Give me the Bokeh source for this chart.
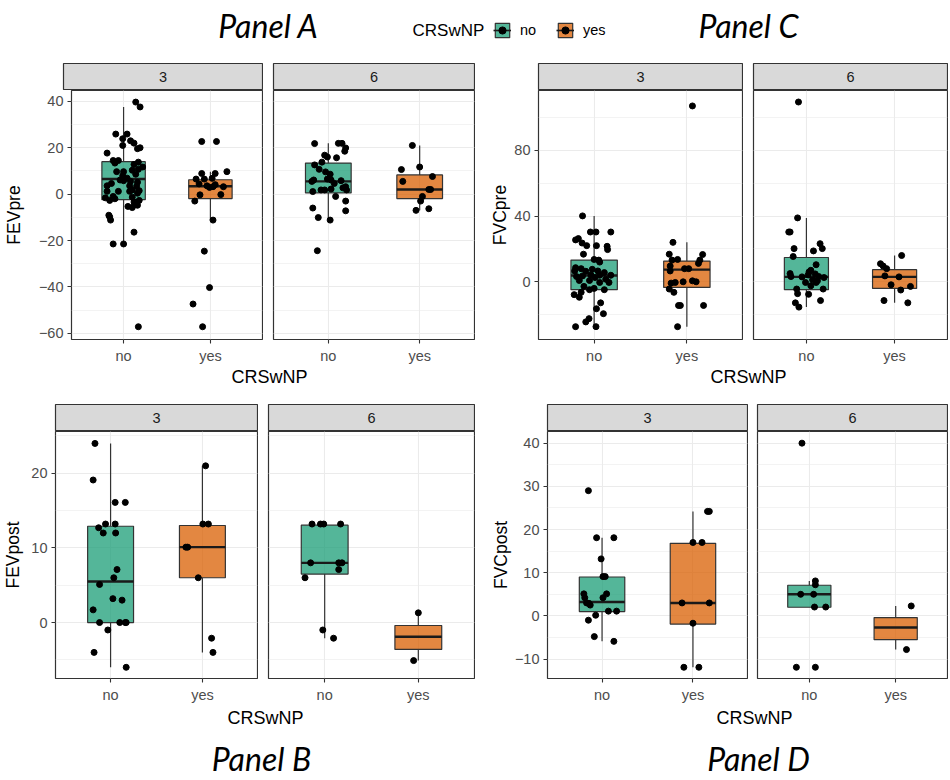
from bokeh.plotting import figure
from bokeh.models import Range1d, FixedTicker, Label, Legend, LegendItem
from bokeh.layouts import column, row
from bokeh.embed import file_html
from bokeh.resources import INLINE

GROUPS = ["no", "yes"]
FACETS = ["3", "6"]
GROUP_COLORS = ["#1B9E77", "#D95F02"]
X_TITLE = "CRSwNP"
PANEL_TITLES = ["Panel A", "Panel B", "Panel C", "Panel D"]

# ---------------- Panel A : FEVpre ----------------
FEVPRE_TICKS = [-60, -40, -20, 0, 20, 40]
FEVPRE_MINOR = [-50, -30, -10, 10, 30]
FEVPRE_YRANGE = [-62.7, 44.7]
# box statistics, order [3-no, 3-yes, 6-no, 6-yes]
FEVPRE_LOWER = [-21.5, -11.2, -11.2, -7.0]
FEVPRE_Q1 = [-2.4, -1.9, 0.5, -1.9]
FEVPRE_MED = [6.5, 3.4, 5.5, 2.0]
FEVPRE_Q3 = [14.0, 6.2, 13.4, 8.3]
FEVPRE_UPPER = [37.6, 9.7, 21.9, 21.0]
FEVPRE_3_NO = [39.7, 37.6, 25.9, 25.9, 23.9, 23.0, 21.0, 22.0, 19.6, 20.0, 17.7, 14.5, 14.5, 13.4,
               12.8, 13.8, 11.7, 9.7, 9.7, 10.3, 10.7, 8.6, 7.9, 6.9, 6.1, 5.8, 5.5, 4.6, 5.1, 3.6,
               3.6, 3.4, 1.8, 1.5, 1.2, 1.2, 1.2, 0.4, -1.0, -1.6, -2.0, -2.7, -1.3, -2.7, -4.4,
               -5.3, -5.8, -4.8, -3.4, -9.1, -11.2, -9.8, -16.4, -21.5, -21.5, -57.2]
FEVPRE_3_NO_JIT = [0.14, 0.19, -0.09, 0.04, -0.01, 0.08, -0.01, 0.12, 0.16, 0.19, -0.19, -0.12, -0.06,
                   -0.10, 0.12, 0.17, 0.22, -0.08, 0.0, 0.10, 0.17, 0.14, -0.01, 0.04, -0.04, 0.0,
                   0.08, -0.14, 0.16, -0.19, 0.07, 0.15, 0.10, 0.18, -0.19, -0.06, 0.07, 0.16, -0.12,
                   -0.21, -0.10, -0.16, 0.10, 0.18, 0.13, 0.05, 0.10, 0.16, 0.12, -0.17, -0.15, -0.16,
                   0.12, -0.12, 0.0, 0.17]
FEVPRE_3_YES = [22.7, 22.7, 9.7, 8.9, 8.9, 6.5, 6.5, 6.8, 4.4, 3.6, 2.9, 3.2, 4.1, 3.2, -0.3, -3.0,
                -0.2, -11.2, -24.6, -40.3, -47.4, -57.2]
FEVPRE_3_YES_JIT = [-0.10, 0.07, 0.19, -0.10, 0.055, -0.165, -0.07, 0.02, -0.13, -0.04, -0.01, 0.03,
                    0.055, 0.15, -0.12, -0.18, 0.12, 0.03, -0.07, -0.01, -0.20, -0.09]
FEVPRE_6_NO = [21.8, 21.9, 21.9, 19.9, 18.5, 16.8, 16.0, 15.7, 13.8, 12.6, 10.7, 9.6, 8.6, 6.1, 5.5,
               6.5, 6.1, 4.6, 5.8, 3.2, 1.8, 1.8, 1.8, 1.1, 2.2, 2.7, -1.0, -3.0, -6.0, -7.2, -10.1,
               -11.2, -24.4]
FEVPRE_6_NO_JIT = [-0.15, 0.11, 0.15, 0.19, 0.18, -0.04, -0.01, 0.09, -0.07, -0.15, -0.10, -0.03, 0.02,
                   -0.16, -0.18, -0.01, 0.03, 0.065, 0.14, 0.19, 0.20, -0.08, -0.04, -0.17, 0.03, 0.16,
                   0.08, 0.19, -0.17, 0.19, -0.11, 0.02, -0.12]
FEVPRE_6_YES = [21.0, 10.6, 11.7, 7.6, 5.5, 2.0, 2.0, -1.0, -3.0, -7.0, -6.3]
FEVPRE_6_YES_JIT = [-0.08, -0.20, 0.0, 0.14, -0.185, 0.12, 0.10, 0.03, 0.01, -0.04, 0.10]

# ---------------- Panel C : FVCpre ----------------
FVCPRE_TICKS = [0, 40, 80]
FVCPRE_MINOR = [-20, 20, 60, 100]
FVCPRE_YRANGE = [-35.1, 116.4]
FVCPRE_LOWER = [-27.3, -27.3, -15.4, -12.8]
FVCPRE_Q1 = [-4.8, -3.4, -4.8, -4.0]
FVCPRE_MED = [3.8, 7.4, 3.0, 3.0]
FVCPRE_Q3 = [13.2, 12.6, 14.8, 7.4]
FVCPRE_UPPER = [40.1, 24.0, 38.9, 16.0]
FVCPRE_3_NO = [40.1, 25.5, 26.3, 30.3, 30.3, 30.3, 23.6, 22.0, 22.0, 21.6, 19.6, 16.8, 13.6, 13.2,
               12.0, 8.6, 6.6, 8.0, 6.4, 7.6, 6.6, 5.6, 3.2, 3.6, 4.2, 2.6, 4.0, 4.0, 0.8, 0.8, -0.4,
               1.6, -0.4, -2.8, -4.8, -4.0, -4.8, -6.4, -7.8, -9.4, -12.8, -16.4, -19.4, -22.4,
               -24.4, -27.3, -27.3]
FVCPRE_3_NO_JIT = [-0.125, -0.20, -0.17, -0.04, 0.02, 0.18, -0.13, -0.08, 0.025, 0.14, 0.145, -0.115,
                   0.0, 0.05, 0.06, -0.20, -0.21, -0.14, -0.09, -0.02, 0.04, 0.11, -0.19, -0.125,
                   -0.035, 0.01, 0.06, 0.18, -0.16, -0.05, 0.06, 0.125, 0.16, -0.11, -0.05, 0.0, 0.11,
                   -0.14, -0.215, -0.16, 0.07, 0.025, 0.10, -0.055, -0.09, -0.20, 0.02]
FVCPRE_3_YES = [107.0, 24.0, 16.8, 13.6, 16.6, 13.2, 13.2, 9.6, 6.6, 8.0, 8.0, 11.2, -0.4, -0.8, 0.0,
                0.6, 0.0, -6.4, -4.4, -14.4, -14.4, -14.4, -27.3]
FVCPRE_3_YES_JIT = [0.06, -0.15, -0.19, -0.10, 0.17, 0.14, -0.16, -0.18, -0.18, -0.025, 0.02, 0.125,
                    -0.125, -0.17, -0.04, 0.06, 0.10, -0.14, -0.19, -0.09, -0.07, 0.18, -0.10]
FVCPRE_6_NO = [109.4, 38.9, 30.3, 30.3, 20.2, 23.2, 20.2, 18.8, 15.4, 10.4, 7.0, 6.0, 5.0, 3.2, 3.0,
               4.2, 4.8, 3.2, 2.6, 1.2, -0.4, -0.4, 0.6, -2.4, -4.4, -4.4, -7.2, -7.6, -11.4, -12.8,
               -15.4]
FVCPRE_6_NO_JIT = [-0.09, -0.10, -0.20, -0.185, -0.14, 0.155, 0.18, 0.08, -0.15, 0.11, 0.05, 0.03,
                   -0.185, -0.175, -0.05, 0.02, 0.10, 0.14, 0.20, 0.07, -0.01, 0.11, 0.125, 0.05, 0.19,
                   -0.11, -0.10, 0.025, 0.16, -0.125, -0.085]
FVCPRE_6_YES = [16.0, 11.0, 9.6, 8.0, 3.6, 3.0, -1.8, -2.8, -5.0, -11.4, -12.8]
FVCPRE_6_YES_JIT = [0.08, -0.16, -0.13, -0.09, -0.11, 0.05, -0.04, 0.18, 0.07, -0.12, 0.15]

# ---------------- Panel B : FEVpost ----------------
FEVPOST_TICKS = [0, 10, 20]
FEVPOST_MINOR = [-5, 5, 15, 25]
FEVPOST_YRANGE = [-7.5, 25.6]
FEVPOST_LOWER = [-6.0, -4.0, -2.1, -5.1]
FEVPOST_Q1 = [0.0, 6.0, 6.5, -3.6]
FEVPOST_MED = [5.5, 10.1, 8.0, -1.9]
FEVPOST_Q3 = [12.9, 13.0, 13.05, -0.4]
FEVPOST_UPPER = [24.0, 21.0, 13.2, 1.3]
FEVPOST_3_NO = [24.0, 19.1, 16.1, 16.1, 13.2, 13.2, 12.7, 12.0, 12.0, 7.1, 6.0, 5.1, 3.2, 3.0, 1.7,
                0.0, 0.0, 0.0, 0.0, -1.0, -4.0, -6.0]
FEVPOST_3_NO_JIT = [-0.17, -0.19, 0.05, 0.16, -0.055, 0.05, -0.13, -0.08, 0.055, 0.07, 0.035, -0.12,
                    0.025, 0.125, -0.19, -0.12, 0.10, 0.16, 0.17, -0.03, -0.18, 0.17]
FEVPOST_3_YES = [21.0, 13.2, 13.2, 10.1, 10.1, 6.0, -2.1, -4.0]
FEVPOST_3_YES_JIT = [0.035, 0.005, 0.065, -0.18, -0.16, -0.045, 0.10, 0.115]
FEVPOST_6_NO = [13.2, 13.2, 13.2, 13.2, 8.0, 8.0, 8.0, 7.1, 6.0, -1.0, -2.1]
FEVPOST_6_NO_JIT = [-0.135, -0.045, -0.01, 0.17, -0.15, 0.15, 0.185, 0.15, -0.21, -0.02, 0.095]
FEVPOST_6_YES = [1.3, -5.1]
FEVPOST_6_YES_JIT = [0.0, -0.05]

# ---------------- Panel D : FVCpost ----------------
FVCPOST_TICKS = [-10, 0, 10, 20, 30, 40]
FVCPOST_MINOR = [-5, 5, 15, 25, 35]
FVCPOST_YRANGE = [-14.5, 42.7]
FVCPOST_LOWER = [-5.9, -11.9, 2.0, -7.8]
FVCPOST_Q1 = [1.0, -1.9, 2.0, -5.5]
FVCPOST_MED = [3.2, 3.0, 5.0, -2.7]
FVCPOST_Q3 = [9.0, 16.8, 7.1, -0.4]
FVCPOST_UPPER = [18.1, 24.2, 8.1, 2.3]
FVCPOST_3_NO = [29.0, 18.1, 18.1, 13.2, 9.1, 9.1, 5.1, 5.1, 4.2, 4.2, 3.0, 2.9, 2.5, 1.1, 1.1, 0.15,
                -1.0, -4.8, -5.9]
FVCPOST_3_NO_JIT = [-0.15, -0.06, 0.13, -0.01, 0.01, 0.035, -0.20, 0.05, -0.19, 0.01, -0.17, -0.145,
                    -0.13, 0.07, 0.16, -0.07, -0.15, -0.085, 0.13]
FVCPOST_3_YES = [24.2, 24.2, 17.0, 17.0, 3.0, 3.0, -1.7, -11.9, -11.9]
FVCPOST_3_YES_JIT = [0.16, 0.18, 0.0, 0.10, -0.12, 0.18, 0.0, -0.10, 0.065]
FVCPOST_6_NO = [40.0, 8.1, 7.2, 5.0, 5.0, 2.05, 2.05, -11.9, -11.9]
FVCPOST_6_NO_JIT = [-0.085, 0.07, 0.07, -0.10, 0.05, 0.06, 0.19, -0.15, 0.07]
FVCPOST_6_YES = [2.3, -7.8]
FVCPOST_6_YES_JIT = [0.18, 0.125]

PANELS = {
    "A": dict(ylabel="FEVpre", yrange=FEVPRE_YRANGE, ticks=FEVPRE_TICKS, minor=FEVPRE_MINOR,
              stats=[FEVPRE_LOWER, FEVPRE_Q1, FEVPRE_MED, FEVPRE_Q3, FEVPRE_UPPER],
              pts=[FEVPRE_3_NO, FEVPRE_3_YES, FEVPRE_6_NO, FEVPRE_6_YES],
              jit=[FEVPRE_3_NO_JIT, FEVPRE_3_YES_JIT, FEVPRE_6_NO_JIT, FEVPRE_6_YES_JIT]),
    "C": dict(ylabel="FVCpre", yrange=FVCPRE_YRANGE, ticks=FVCPRE_TICKS, minor=FVCPRE_MINOR,
              stats=[FVCPRE_LOWER, FVCPRE_Q1, FVCPRE_MED, FVCPRE_Q3, FVCPRE_UPPER],
              pts=[FVCPRE_3_NO, FVCPRE_3_YES, FVCPRE_6_NO, FVCPRE_6_YES],
              jit=[FVCPRE_3_NO_JIT, FVCPRE_3_YES_JIT, FVCPRE_6_NO_JIT, FVCPRE_6_YES_JIT]),
    "B": dict(ylabel="FEVpost", yrange=FEVPOST_YRANGE, ticks=FEVPOST_TICKS, minor=FEVPOST_MINOR,
              stats=[FEVPOST_LOWER, FEVPOST_Q1, FEVPOST_MED, FEVPOST_Q3, FEVPOST_UPPER],
              pts=[FEVPOST_3_NO, FEVPOST_3_YES, FEVPOST_6_NO, FEVPOST_6_YES],
              jit=[FEVPOST_3_NO_JIT, FEVPOST_3_YES_JIT, FEVPOST_6_NO_JIT, FEVPOST_6_YES_JIT]),
    "D": dict(ylabel="FVCpost", yrange=FVCPOST_YRANGE, ticks=FVCPOST_TICKS, minor=FVCPOST_MINOR,
              stats=[FVCPOST_LOWER, FVCPOST_Q1, FVCPOST_MED, FVCPOST_Q3, FVCPOST_UPPER],
              pts=[FVCPOST_3_NO, FVCPOST_3_YES, FVCPOST_6_NO, FVCPOST_6_YES],
              jit=[FVCPOST_3_NO_JIT, FVCPOST_3_YES_JIT, FVCPOST_6_NO_JIT, FVCPOST_6_YES_JIT]),
}

# ---------------- styling ----------------
FONT = "Liberation Sans"
TITLE_FONT = "Lato"
EDGE = "#333333"
GRID = "#EBEBEB"
TICK_TXT = "#4D4D4D"
TICK_SIZE = "14.5px"
AXT_SIZE = "17.5px"
BOX_W = 0.5
TOTAL_W = 948


def base_fig(w, h, **kw):
    return figure(width=w, height=h, output_backend="svg", toolbar_location=None, title=None, **kw)


def strip_fig(label, frame_w, left, right, h=28):
    p = base_fig(left + frame_w + right, h, x_range=Range1d(0, 1), y_range=Range1d(0, 1),
                 x_axis_location=None, y_axis_location=None,
                 min_border_left=left, min_border_right=right, min_border_top=1, min_border_bottom=0)
    p.grid.visible = False
    p.background_fill_color = "#D9D9D9"
    p.border_fill_color = "white"
    p.outline_line_color = EDGE
    p.outline_line_width = 1.2
    p.add_layout(Label(x=0.5, y=0.5, text=label, text_align="center", text_baseline="middle",
                       text_font=FONT, text_font_size=TICK_SIZE, text_color="#1A1A1A"))
    return p


def facet_fig(key, fi, frame_w, left, right, frame_h, bottom, show_y, standoff):
    pn = PANELS[key]
    p = base_fig(left + frame_w + right, frame_h + bottom,
                 x_range=Range1d(0.4, 2.6), y_range=Range1d(*pn["yrange"]),
                 x_axis_location="below", y_axis_location="left" if show_y else None,
                 min_border_left=left, min_border_right=right, min_border_top=0,
                 min_border_bottom=bottom)
    p.background_fill_color = "white"
    p.border_fill_color = "white"
    p.outline_line_color = EDGE
    p.outline_line_width = 1.2

    xt = FixedTicker(ticks=[1, 2], minor_ticks=[])
    yt = FixedTicker(ticks=pn["ticks"], minor_ticks=pn["minor"])
    p.xaxis.ticker = xt
    p.xaxis.major_label_overrides = {i + 1: g for i, g in enumerate(GROUPS)}
    p.xgrid.ticker = xt
    p.ygrid.ticker = yt
    for g in p.xgrid + p.ygrid:
        g.grid_line_color = GRID
        g.grid_line_width = 1.1
    p.ygrid.minor_grid_line_color = GRID
    p.ygrid.minor_grid_line_width = 0.6
    p.xgrid.minor_grid_line_color = None

    axes = list(p.xaxis) + list(p.yaxis)
    for ax in axes:
        ax.axis_line_color = None
        ax.major_tick_line_color = EDGE
        ax.major_tick_line_width = 1.1
        ax.major_tick_in = 0
        ax.major_tick_out = 4
        ax.minor_tick_line_color = None
        ax.major_label_text_color = TICK_TXT
        ax.major_label_text_font = FONT
        ax.major_label_text_font_size = TICK_SIZE
        ax.major_label_standoff = 4
    if show_y:
        p.yaxis.ticker = yt
        p.yaxis.axis_label = pn["ylabel"]
        p.yaxis.axis_label_text_font = FONT
        p.yaxis.axis_label_text_font_size = AXT_SIZE
        p.yaxis.axis_label_text_font_style = "normal"
        p.yaxis.axis_label_text_color = "black"
        p.yaxis.axis_label_standoff = standoff

    lo, q1, med, q3, hi = pn["stats"]
    for gi, g in enumerate(GROUPS):
        k = fi * 2 + gi
        xc = gi + 1
        p.segment(x0=[xc, xc], y0=[q3[k], lo[k]], x1=[xc, xc], y1=[hi[k], q1[k]],
                  line_color=EDGE, line_width=1.2)
        p.vbar(x=[xc], width=BOX_W, bottom=[q1[k]], top=[q3[k]], fill_color=GROUP_COLORS[gi],
               fill_alpha=0.75, line_color=EDGE, line_width=1.2)
        p.segment(x0=[xc - BOX_W / 2], x1=[xc + BOX_W / 2], y0=[med[k]], y1=[med[k]],
                  line_color="#1A1A1A", line_width=2.4)
        ys = pn["pts"][k]
        xs = [xc + d for d in pn["jit"][k]]
        p.scatter(x=xs, y=ys, size=6, color="black")
    return p


def text_fig(h, labels):
    p = base_fig(TOTAL_W, h, x_range=Range1d(0, 1), y_range=Range1d(0, 1),
                 x_axis_location=None, y_axis_location=None, min_border=0)
    p.grid.visible = False
    p.outline_line_color = None
    for lab in labels:
        p.add_layout(lab)
    return p


def axis_title(x, y, text):
    return Label(x=x, y=y, x_units="screen", y_units="screen", text=text, text_align="center",
                 text_baseline="middle", text_font=FONT, text_font_size="18px", text_color="black")


def panel_title(x, y, text):
    return Label(x=x, y=y, x_units="screen", y_units="screen", text=text, text_align="center",
                 text_baseline="middle", text_font=TITLE_FONT, text_font_style="italic",
                 text_font_size="32px", text_color="black")


# ---------------- header with legend ----------------
HEADER_H = 62
header = text_fig(HEADER_H, [panel_title(268, 37, PANEL_TITLES[0]),
                             panel_title(748, 37, PANEL_TITLES[2]),
                             Label(x=412, y=32, x_units="screen", y_units="screen", text=X_TITLE,
                                   text_align="left", text_baseline="middle", text_font=FONT,
                                   text_font_size="17px", text_color="black")])
items = []
for gi, g in enumerate(GROUPS):
    rb = header.vbar(x=[-5], width=0.5, bottom=[-6], top=[-5], fill_color=GROUP_COLORS[gi],
                     fill_alpha=0.75, line_color=EDGE, line_width=1.2)
    rm = header.segment(x0=[-6], x1=[-5], y0=[-5], y1=[-5], line_color="#1A1A1A", line_width=1.6)
    rp = header.scatter(x=[-5], y=[-5], size=4, color="black")
    items.append(LegendItem(label=g, renderers=[rb, rm, rp]))
legend = Legend(items=items, orientation="horizontal", location=(493, 23), padding=0, margin=0,
                spacing=16, glyph_width=18, glyph_height=18, label_standoff=9,
                label_text_font=FONT, label_text_font_size=TICK_SIZE, label_text_color="black",
                border_line_color=None, background_fill_alpha=0)
header.add_layout(legend)

# ---------------- facet rows ----------------
# (panel, facet index, frame width, left border, right border, has y axis, y-title standoff)
TOP = [("A", 0, 199, 63, 1, True, 12), ("A", 1, 201, 10, 1, False, 0),
       ("C", 0, 204, 63, 1, True, 1), ("C", 1, 194, 10, 1, False, 0)]
BOT = [("B", 0, 202, 55, 1, True, 5), ("B", 1, 206, 10, 1, False, 0),
       ("D", 0, 200, 72, 1, True, 1), ("D", 1, 190, 9, 1, False, 0)]

top_strips = row([strip_fig(FACETS[fi], fw, l, r) for (k, fi, fw, l, r, s, so) in TOP], spacing=0)
top_facets = row([facet_fig(k, fi, fw, l, r, 253, 23, s, so) for (k, fi, fw, l, r, s, so) in TOP],
                 spacing=0)
top_xt = text_fig(37, [axis_title(269, 27, X_TITLE), axis_title(748, 27, X_TITLE)])

bot_strips = row([strip_fig(FACETS[fi], fw, l, r) for (k, fi, fw, l, r, s, so) in BOT], spacing=0)
bot_facets = row([facet_fig(k, fi, fw, l, r, 251, 23, s, so) for (k, fi, fw, l, r, s, so) in BOT],
                 spacing=0)
# bottom x titles + panel labels B and D (73 px tall block)
bot_footer = text_fig(73, [axis_title(265, 61, X_TITLE), axis_title(754, 61, X_TITLE),
                           panel_title(261, 20, PANEL_TITLES[1]),
                           panel_title(758, 20, PANEL_TITLES[3])])

layout = column([header, top_strips, top_facets, top_xt, bot_strips, bot_facets, bot_footer],
                spacing=0)

with open("out.html", "w") as f:
    f.write(file_html(layout, INLINE))
